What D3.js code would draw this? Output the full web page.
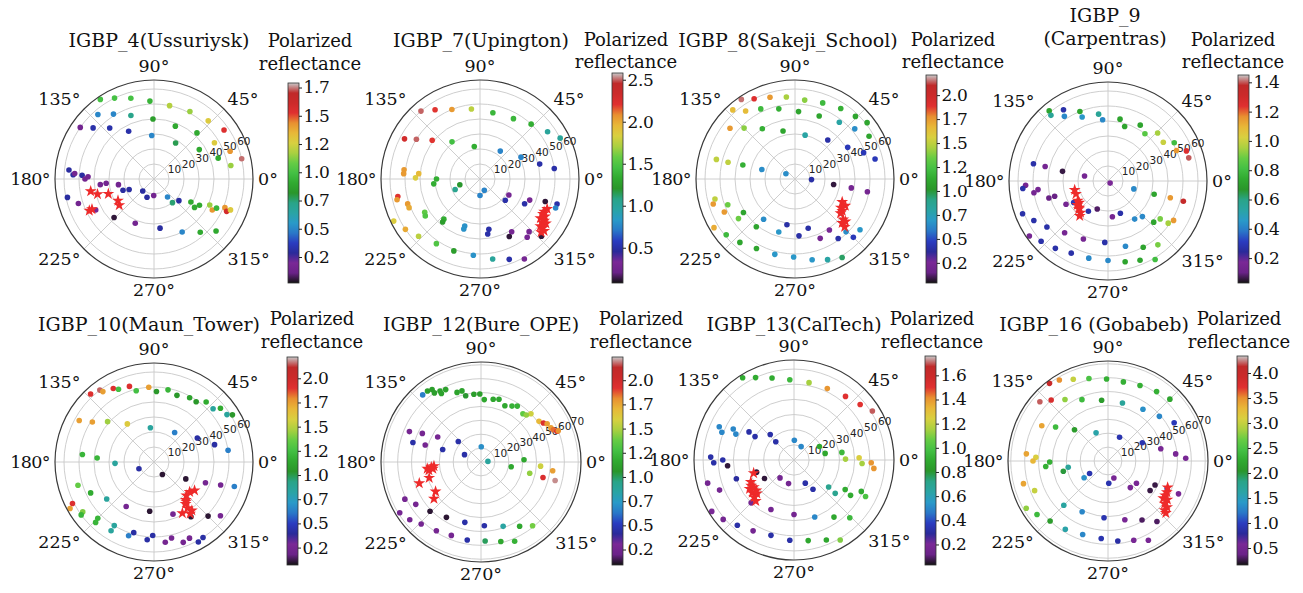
<!DOCTYPE html>
<html><head><meta charset="utf-8">
<script src="https://cdn.jsdelivr.net/npm/d3@7"></script>
<style>body{margin:0;background:#fff}svg{display:block}</style>
</head><body><svg id="c" width="1303" height="593"></svg>
<script>
// ---------------- DATA ----------------
const titles = [["IGBP_4(Ussuriysk)"],["IGBP_7(Upington)"],["IGBP_8(Sakeji_School)"],["IGBP_9","(Carpentras)"],
  ["IGBP_10(Maun_Tower)"],["IGBP_12(Bure_OPE)"],["IGBP_13(CalTech)"],["IGBP_16 (Gobabeb)"]];
const cbarTitle = ["Polarized","reflectance"];
const thetaTicks = [0,45,90,135,180,225,270,315];
const thetaLabels = ["0°","45°","90°","135°","180°","225°","270°","315°"];
const rTicks60 = [10,20,30,40,50,60];
const rTicks70 = [10,20,30,40,50,60,70];
const rMax = [66,66,66,66,66,72,66,72];
const cbDomain = [[0.02,1.79],[0.08,2.58],[0.04,2.21],[0.03,1.45],[0.07,2.22],[0.09,2.24],[0.03,1.76],[0.16,4.34]];
const ticksQ = [0.25,0.5,0.75,1.0,1.25,1.5,1.75];
const ticksQ8 = [0.25,0.5,0.75,1.0,1.25,1.5,1.75,2.0];
const labelsQ = ["0.2","0.5","0.7","1.0","1.2","1.5","1.7"];
const labelsQ8 = ["0.2","0.5","0.7","1.0","1.2","1.5","1.7","2.0"];
const ticksH = [0.5,1.0,1.5,2.0,2.5];
const labelsH = ["0.5","1.0","1.5","2.0","2.5"];
const ticksF7 = [0.2,0.4,0.6,0.8,1.0,1.2,1.4];
const labelsF7 = ["0.2","0.4","0.6","0.8","1.0","1.2","1.4"];
const ticksF8 = [0.2,0.4,0.6,0.8,1.0,1.2,1.4,1.6];
const labelsF8 = ["0.2","0.4","0.6","0.8","1.0","1.2","1.4","1.6"];
const ticksG = [0.5,1.0,1.5,2.0,2.5,3.0,3.5,4.0];
const labelsG = ["0.5","1.0","1.5","2.0","2.5","3.0","3.5","4.0"];

// Panel 1: IGBP_4
const p1Az = [124,116,106,93,78,62,47,35,131,122,110,91,68,47,31,20,13,145,140,131,118,93,59,33,18,10,174,177,176,177,180,178,186,185,189,200,203,227,249,269,307,308,319,328,325,330,335,332,335,338,336,338,192,198,208,224,247,277,298,311,320];
const p1Zen = [64,60,56,52,50,51,53,57,57,51,45,40,38,42,47,54,60,60,53,45,36,29,28,36,45,52,57,54,53,48,46,44,36,32,24,22,18,11,13,11,15,20,22,29,33,35,41,44,46,51,53,55,59,53,44,37,32,33,40,47,54];
const p1Val = [1.0,1.0,1.0,0.94,1.19,1.15,1.28,1.54,0.5,0.5,0.72,0.85,0.9,0.9,1.28,1.42,1.74,0.16,0.32,0.32,0.32,0.5,0.78,0.9,0.9,1.15,0.3,0.3,0.16,0.3,0.16,0.16,0.16,0.16,0.16,0.3,0.3,0.3,0.3,0.16,0.5,0.75,0.3,0.9,0.9,0.9,1.15,1.42,0.95,1.42,1.58,1.28,0.3,0.16,0.2,0.05,0.16,0.3,0.5,0.9,0.9];
const p1StarAz = [191,195,198,211,217,206,206];
const p1StarZen = [43,39,32,28,29,48,46];

// Panel 2: IGBP_7
const p2Az = [131,123,112,97,79,61,47,35,27,152,148,141,127,100,54,28,14,8,176,173,179,175,180,186,203,196,270,291,320,331,331,337,341,342,339,192,194,199,202,211,214,228,229,252,252,280,278,301,297,313,309,317,206,214,223,236,250,265,279,290,299];
const p2Zen = [60,55,50,47,45,46,50,55,60,57,50,41,31,22,23,31,41,50,51,51,43,41,29,31,18,14,11,8,22,22,34,36,46,54,54,56,57,51,51,43,44,36,38,33,35,34,37,41,43,48,50,56,64,60,56,52,51,51,54,57,61];
const p2Val = [2.5,2.2,2.05,1.75,1.4,1.4,1.35,1.0,1.0,2.3,2.5,2.2,1.45,1.35,0.75,0.75,0.5,0.5,2.05,2.05,1.85,1.95,1.35,1.35,1.05,1.2,0.75,0.75,0.5,0.3,0.5,0.3,0.12,0.5,0.75,2.2,2.05,2.05,2.0,1.55,1.5,1.35,1.25,0.8,0.8,0.5,0.5,0.3,0.12,0.3,0.3,0.12,1.85,2.0,1.75,1.5,1.25,0.8,1.0,0.5,0.3];
const p2StarAz = [336,333,331,330,327,327,325,326,322,322,321,319];
const p2StarZen = [49,48,48,50,48,51,51,53,51,53,55,54];

// Panel 3: IGBP_8
const p3Az = [124,117,107,96,83,70,57,46,38,132,126,116,103,87,69,52,40,30,142,135,123,104,77,50,31,21,14,166,166,165,164,150,358,352,351,350,194,197,201,205,213,215,232,231,260,253,285,274,304,293,306,314,322,315,211,219,229,241,255,269,282,292,301];
const p3Zen = [64,60,57,55,53,54,56,58,61,62,56,52,48,45,45,48,52,57,55,48,40,33,30,34,41,49,55,54,46,36,23,7,11,26,38,49,55,57,48,52,41,46,34,41,31,37,34,38,41,43,49,49,55,55,63,59,56,53,52,52,55,58,61];
const p3Val = [2.15,1.9,1.75,1.45,1.4,1.2,1.15,1.1,1.1,1.65,1.65,1.2,1.15,1.1,1.1,0.8,0.65,1.1,1.75,1.4,1.15,1.1,0.8,0.4,0.45,0.45,0.45,1.5,1.5,1.15,0.65,0.65,0.4,0.08,0.22,0.22,1.5,1.75,1.35,1.75,1.1,1.35,0.65,1.1,0.4,0.68,0.4,0.4,0.25,0.22,0.4,0.65,0.68,0.45,1.7,1.2,1.1,1.1,0.68,0.68,0.68,0.8,0.95];
const p3StarAz = [334,332,328,326,323,320,320,317,316];
const p3StarZen = [35,38,36,38,38,42,44,43,46];

// Panel 4: IGBP_9
const p4Az = [130,131,122,124,112,112,98,95,79,73,60,52,44,35,30,24,21,16,167,167,168,168,315,183,185,189,187,196,196,209,212,237,249,277,291,343,305,314,344,318,324,325,329,345,345,201,208,217,230,247,267,285,298,308,215,222,232,243,256,270,282,292,301];
const p4Zen = [61,58,56,52,50,46,45,41,42,38,43,40,46,45,51,50,56,56,51,43,31,16,2,55,57,50,47,41,37,32,27,24,20,24,23,18,31,33,32,41,43,49,51,43,52,61,56,51,45,42,41,45,50,54,64,60,57,54,53,53,55,57,61];
const p4Val = [0.72,0.56,0.27,0.42,0.72,0.45,0.56,0.42,0.72,0.72,0.72,0.85,0.95,1.0,0.8,1.15,1.25,1.4,0.27,0.15,0.06,0.15,0.17,0.15,0.27,0.15,0.15,0.1,0.1,0.15,0.3,0.27,0.08,0.15,0.27,0.42,0.42,0.42,0.72,0.72,0.9,0.95,1.15,1.15,1.35,0.27,0.27,0.27,0.15,0.15,0.27,0.42,0.72,0.9,0.15,0.27,0.27,0.27,0.42,0.42,0.72,0.72,0.8];
const p4StarAz = [195,202,213,217,218,223,224,229,231];
const p4StarZen = [23,23,24,24,26,26,27,28,30];

// Panel 5: IGBP_10
const p5Az = [133,127,126,119,116,108,104,94,88,79,71,61,55,49,42,39,33,31,151,147,139,125,96,55,29,16,9,174,176,182,204,304,332,338,341,343,197,206,218,238,265,290,304,315,321,207,209,215,216,225,226,238,238,254,251,269,265,283,278,295,290,303,299];
const p5Zen = [62,60,58,56,54,53,49,50,47,49,47,49,49,53,53,57,58,61,57,49,41,31,23,24,33,42,50,48,38,26,11,10,24,37,47,56,53,47,40,35,33,37,44,51,57,61,64,58,60,53,56,50,54,49,52,49,52,52,54,56,57,60,61];
const p5Val = [1.92,2.15,1.75,1.92,1.25,1.92,1.25,1.75,1.05,1.2,1.05,1.1,1.05,1.15,0.85,1.15,0.85,1.05,1.75,1.75,1.45,1.6,0.85,0.63,0.42,0.42,0.63,1.2,1.2,0.85,0.42,0.1,0.1,0.25,0.25,0.63,1.35,1.15,0.85,0.25,0.1,0.25,0.1,0.1,0.25,1.92,1.75,1.4,1.2,1.2,1.2,0.85,0.85,0.42,0.63,0.42,0.42,0.25,0.25,0.25,0.25,0.42,0.42];
const p5StarAz = [325,320,314,310,307,306,299,308,305,309];
const p5StarZen = [33,31,31,33,35,38,39,41,42,34];

// Panel 6: IGBP_12
const p6Az = [131,127,124,124,120,116,120,109,105,103,96,91,87,79,74,67,61,57,49,44,46,35,32,30,26,24,22,22,157,154,150,164,163,162,138,156,89,5,351,3,347,356,346,353,346,206,213,212,219,224,238,226,237,248,255,273,289,301,309,260,273,284,293];
const p6Zen = [64,64,63,60,59,58,57,53,53,49,49,49,45,46,47,44,46,48,46,50,47,51,53,55,56,57,59,60,56,47,36,51,42,29,22,13,11,5,22,31,36,43,46,52,55,61,56,69,66,51,47,62,59,57,45,46,49,54,59,57,57,59,62];
const p6Val = [0.65,1.1,1.1,1.1,1.12,1.12,1.12,1.12,1.12,1.05,1.1,1.1,1.15,1.15,1.15,1.15,1.2,1.2,1.35,1.57,1.45,1.7,1.95,1.77,1.77,1.85,1.95,1.8,0.27,0.27,0.27,0.45,0.27,0.45,0.45,0.45,0.7,0.87,1.15,1.15,1.45,1.57,1.95,1.77,2.2,0.27,0.27,0.27,0.27,0.12,0.12,0.27,0.27,0.27,0.45,0.45,0.85,1.15,1.4,0.45,1.0,1.15,1.2];
const p6StarAz = [187,186,185,189,188,199,197,213,218];
const p6StarZen = [39,36,34,38,35,47,39,39,43];

// Panel 7: IGBP_13
const p7Az = [122,115,105,93,79,65,51,40,32,156,159,153,156,148,149,133,135,89,62,28,12,9,1,2,357,358,354,178,182,180,185,195,202,198,198,212,225,232,257,296,303,322,321,330,328,335,333,212,220,229,240,245,253,270,267,290,280,305,292,314,300];
const p7Zen = [64,60,56,53,52,52,54,57,61,54,51,45,42,35,30,23,17,13,10,19,21,32,34,43,45,51,53,55,53,47,44,59,53,40,26,23,40,15,16,17,23,29,35,39,44,49,53,64,61,57,54,36,52,36,53,40,54,46,57,53,61];
const p7Val = [0.9,0.9,0.9,0.95,1.15,1.4,1.5,1.5,1.7,0.5,0.5,0.5,0.5,0.32,0.32,0.32,0.32,0.5,0.5,0.88,0.88,0.95,1.15,1.25,1.15,1.4,1.4,0.32,0.32,0.32,0.06,0.17,0.17,0.3,0.06,0.06,0.17,0.17,0.17,0.32,0.32,0.7,0.7,0.9,0.9,0.9,1.0,0.2,0.17,0.32,0.17,0.17,0.32,0.17,0.32,0.5,0.88,0.88,0.88,0.95,1.1];
const p7StarAz = [198,207,211,213,214,218,222,223,227,219];
const p7StarZen = [28,32,33,35,32,35,33,36,37,32];

// Panel 8: IGBP_16
const p8Az = [127,121,113,103,91,79,67,55,45,139,133,125,113,96,76,56,41,30,152,147,137,113,64,28,13,6,2,175,177,180,185,181,193,189,215,214,272,289,310,322,325,333,335,335,195,202,210,217,226,225,238,243,251,266,265,286,277,300,288,309,297];
const p8Zen = [70,68,64,61,59,58,59,61,63,65,60,54,48,44,43,45,49,55,54,45,33,22,19,28,39,49,56,59,52,54,45,42,33,29,21,16,16,13,25,26,37,38,47,56,63,57,68,64,60,45,58,41,56,41,56,44,58,49,60,56,64];
const p8Val = [4.0,3.5,3.0,2.5,2.3,2.3,2.3,2.3,2.2,4.2,3.8,2.8,2.4,2.1,1.7,1.35,1.3,0.95,3.4,2.4,2.1,1.6,0.9,0.9,0.55,0.55,0.55,3.4,3.1,3.3,2.3,2.3,2.0,1.7,1.35,0.9,0.9,0.55,0.55,0.55,0.25,0.25,0.9,0.55,3.4,3.0,2.8,2.4,2.1,1.65,1.6,1.3,1.3,0.9,0.9,0.55,0.85,0.3,0.55,0.3,0.55];
const p8StarAz = [336,332,329,326,327,323,322,319,318];
const p8StarZen = [47,48,48,48,51,51,54,54,56];

// nipy_spectral-like control colours (muted as in the printed figure)
const nipySpectral = ["#121212","#6a2288","#7a2896","#2a2a9a","#2a3cc0","#2a78c8","#2a9ac8","#2aa4a4","#2aa488","#2a962a","#30aa30","#44c044","#66cc44","#aad040","#d8d040","#e8b838","#e89030","#e03030","#cc2a2a","#c02a2a","#c8c8c8"];

// ---------------- ASSEMBLY ----------------
const panels = [
  {az:p1Az,zen:p1Zen,val:p1Val,sAz:p1StarAz,sZen:p1StarZen,rt:rTicks60,ct:ticksQ,cl:labelsQ},
  {az:p2Az,zen:p2Zen,val:p2Val,sAz:p2StarAz,sZen:p2StarZen,rt:rTicks60,ct:ticksH,cl:labelsH},
  {az:p3Az,zen:p3Zen,val:p3Val,sAz:p3StarAz,sZen:p3StarZen,rt:rTicks60,ct:ticksQ8,cl:labelsQ8},
  {az:p4Az,zen:p4Zen,val:p4Val,sAz:p4StarAz,sZen:p4StarZen,rt:rTicks60,ct:ticksF7,cl:labelsF7},
  {az:p5Az,zen:p5Zen,val:p5Val,sAz:p5StarAz,sZen:p5StarZen,rt:rTicks60,ct:ticksQ8,cl:labelsQ8},
  {az:p6Az,zen:p6Zen,val:p6Val,sAz:p6StarAz,sZen:p6StarZen,rt:rTicks70,ct:ticksQ8,cl:labelsQ8},
  {az:p7Az,zen:p7Zen,val:p7Val,sAz:p7StarAz,sZen:p7StarZen,rt:rTicks60,ct:ticksF8,cl:labelsF8},
  {az:p8Az,zen:p8Zen,val:p8Val,sAz:p8StarAz,sZen:p8StarZen,rt:rTicks70,ct:ticksG,cl:labelsG}
];
// layout (pixels)
const layout = [
  {cx:154,cy:179,R:99,cbx:288,cby0:83,cby1:283,labX:310,labY:[47,70],tX:159,tY:[47]},
  {cx:480,cy:179,R:99,cbx:612,cby0:73,cby1:283,labX:626,labY:[46,68],tX:481,tY:[47]},
  {cx:795,cy:179,R:99,cbx:926,cby0:75,cby1:283,labX:953,labY:[46,68],tX:788,tY:[47]},
  {cx:1108,cy:181,R:99,cbx:1238,cby0:75,cby1:283,labX:1233,labY:[46,68],tX:1105,tY:[22,45]},
  {cx:154,cy:462,R:99,cbx:287,cby0:357,cby1:565,labX:312,labY:[325,348],tX:149,tY:[331]},
  {cx:481,cy:462,R:100,cbx:612,cby0:357,cby1:565,labX:641,labY:[325,348],tX:481,tY:[331]},
  {cx:794,cy:460,R:100,cbx:925,cby0:356,cby1:565,labX:932,labY:[325,348],tX:794,tY:[331]},
  {cx:1108,cy:461,R:100,cbx:1237,cby0:356,cby1:565,labX:1239,labY:[325,348],tX:1094,tY:[331]}
];

const SERIF = "'DejaVu Serif', serif";
const FS = 18;
const svg = d3.select("#c");
const defs = svg.append("defs");
const interp = d3.piecewise(d3.interpolateRgb, nipySpectral);
const angle = d3.scaleLinear().domain([0,360]).range([Math.PI/2, Math.PI/2 - 2*Math.PI]);
const star = d3.symbol().type(d3.symbolStar).size(44);

panels.forEach((p, i) => {
  const L = layout[i];
  const g = svg.append("g").attr("transform", `translate(${L.cx},${L.cy})`);
  const r = d3.scaleLinear().domain([0, rMax[i]]).range([0, L.R]);
  const color = d3.scaleSequential(interp).domain(cbDomain[i]);

  g.append("circle").attr("r", L.R).attr("fill", "#fff");
  g.selectAll("circle.ring").data(p.rt).join("circle").attr("class","ring")
    .attr("r", d => r(d)).attr("fill","none").attr("stroke","#c8c8c8").attr("stroke-width",0.9);
  g.selectAll("line.spoke").data(thetaTicks).join("line").attr("class","spoke")
    .attr("x1",0).attr("y1",0)
    .attr("x2", d => d3.pointRadial(angle(d), L.R)[0])
    .attr("y2", d => d3.pointRadial(angle(d), L.R)[1])
    .attr("stroke","#c8c8c8").attr("stroke-width",0.9);
  g.selectAll("text.rl").data(p.rt).join("text").attr("class","rl")
    .attr("x", d => d3.pointRadial(angle(22.5), r(d))[0])
    .attr("y", d => d3.pointRadial(angle(22.5), r(d))[1])
    .attr("font-family","'DejaVu Sans', sans-serif").attr("font-size",10.5).attr("fill","#222")
    .text(d => d);
  g.selectAll("circle.pt").data(p.az.map((a,k)=>({a, z:p.zen[k], v:p.val[k]}))).join("circle").attr("class","pt")
    .attr("cx", d => d3.pointRadial(angle(d.a), r(d.z))[0])
    .attr("cy", d => d3.pointRadial(angle(d.a), r(d.z))[1])
    .attr("r", 2.8).attr("fill", d => color(d.v));
  g.selectAll("path.st").data(p.sAz.map((a,k)=>({a, z:p.sZen[k]}))).join("path").attr("class","st")
    .attr("transform", d => { const q = d3.pointRadial(angle(d.a), r(d.z)); return `translate(${q[0]},${q[1]})`; })
    .attr("d", star).attr("fill","#ee2a2a");
  g.append("circle").attr("r", L.R).attr("fill","none").attr("stroke","#3a3a3a").attr("stroke-width",1.2);
  const RL = L.R + 5;
  g.selectAll("text.tl").data(thetaTicks).join("text").attr("class","tl")
    .attr("x", d => d3.pointRadial(angle(d), RL)[0])
    .attr("y", d => d3.pointRadial(angle(d), RL)[1] - (d === 90 ? 3 : 0))
    .attr("text-anchor", d => { const c = Math.cos(d*Math.PI/180); return c > 0.1 ? "start" : (c < -0.1 ? "end" : "middle"); })
    .attr("dy", d => { const s = Math.sin(d*Math.PI/180); return s > 0.1 ? "0" : (s < -0.1 ? "0.74em" : "0.36em"); })
    .attr("font-family", SERIF).attr("font-size", 17.5).attr("letter-spacing", d => d === 180 ? -0.6 : 0).attr("fill","#111")
    .text((d,k) => thetaLabels[k]);
  titles[i].forEach((t,k) => {
    svg.append("text").attr("x", L.tX).attr("y", L.tY[k]).attr("text-anchor","middle")
      .attr("font-family", SERIF).attr("font-size", FS+1).attr("fill","#111").text(t);
  });
  const gid = "grad" + i;
  const grad = defs.append("linearGradient").attr("id", gid).attr("x1",0).attr("y1",1).attr("x2",0).attr("y2",0);
  d3.range(0, 1.0001, 0.025).forEach(t => grad.append("stop").attr("offset", t).attr("stop-color", interp(t)));
  const cbw = 11;
  svg.append("rect").attr("x", L.cbx).attr("y", L.cby0).attr("width", cbw).attr("height", L.cby1 - L.cby0)
    .attr("fill", `url(#${gid})`).attr("stroke","#333").attr("stroke-width",0.8);
  const y = d3.scaleLinear().domain(cbDomain[i]).range([L.cby1, L.cby0]);
  const ax = svg.append("g").attr("transform", `translate(${L.cbx + cbw},0)`)
    .call(d3.axisRight(y).tickValues(p.ct).tickFormat((d,k) => p.cl[k]).tickSize(3).tickPadding(1.5));
  ax.select(".domain").remove();
  ax.selectAll("text").attr("font-family", SERIF).attr("font-size", 17).attr("letter-spacing", -0.4).attr("fill","#111");
  ax.selectAll("line").attr("stroke","#222");
  cbarTitle.forEach((t,k) => {
    svg.append("text").attr("x", L.labX).attr("y", L.labY[k]).attr("text-anchor","middle")
      .attr("font-family", SERIF).attr("font-size", FS).attr("fill","#111").text(t);
  });
});
</script>
</body></html>
